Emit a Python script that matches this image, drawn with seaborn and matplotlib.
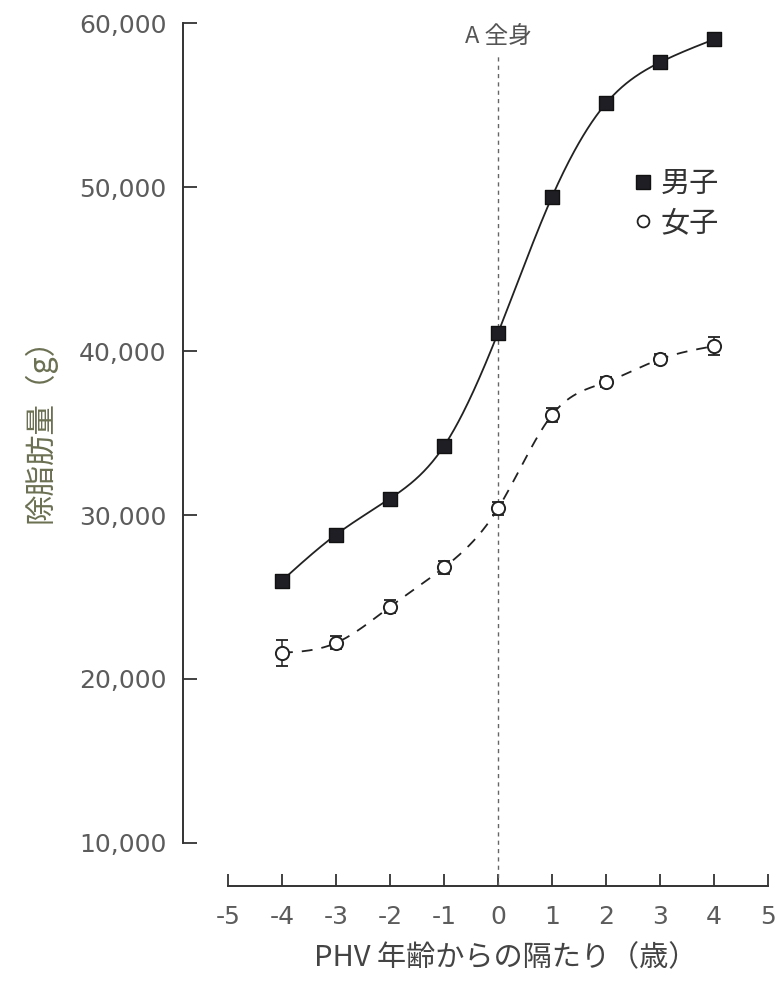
import numpy as np
import pandas as pd
import matplotlib
matplotlib.use("Agg")
import matplotlib.pyplot as plt
import matplotlib.transforms as mtransforms
from matplotlib.lines import Line2D
import seaborn as sns

# Lean body mass by years from PHV age
years = [-4, -3, -2, -1, 0, 1, 2, 3, 4]
boys = [26000, 28800, 31000, 34200, 41100, 49400, 55100, 57600, 59000]
girls = [21600, 22200, 24400, 26800, 30400, 36100, 38100, 39500, 40300]
girls_err = [800, 400, 400, 400, 400, 450, 300, 300, 550]

x_ticks = [-5, -4, -3, -2, -1, 0, 1, 2, 3, 4, 5]
y_ticks = [10000, 20000, 30000, 40000, 50000, 60000]
y_tick_labels = ["10,000", "20,000", "30,000", "40,000", "50,000", "60,000"]

x_label = "PHV 年齢からの隔たり（歳）"
y_label = "除脂肪量（g）"
marker_text = "A 全身"
series_names = ["男子", "女子"]


def natural_spline(x, y, num=400):
    """Smooth connector through the measured points (natural cubic spline)."""
    x = np.asarray(x, float)
    y = np.asarray(y, float)
    n = len(x)
    h = np.diff(x)
    A = np.zeros((n, n))
    rhs = np.zeros(n)
    A[0, 0] = 1.0
    A[-1, -1] = 1.0
    for i in range(1, n - 1):
        A[i, i - 1] = h[i - 1]
        A[i, i] = 2 * (h[i - 1] + h[i])
        A[i, i + 1] = h[i]
        rhs[i] = 6 * ((y[i + 1] - y[i]) / h[i] - (y[i] - y[i - 1]) / h[i - 1])
    M = np.linalg.solve(A, rhs)
    xs = np.linspace(x[0], x[-1], num)
    idx = np.clip(np.searchsorted(x, xs) - 1, 0, n - 2)
    x0, x1 = x[idx], x[idx + 1]
    hh = x1 - x0
    ys = (M[idx] * (x1 - xs) ** 3 / (6 * hh)
          + M[idx + 1] * (xs - x0) ** 3 / (6 * hh)
          + (y[idx] / hh - M[idx] * hh / 6) * (x1 - xs)
          + (y[idx + 1] / hh - M[idx + 1] * hh / 6) * (xs - x0))
    return xs, ys


sns.set_theme(style="ticks")
plt.rcParams["font.family"] = ["DejaVu Sans", "Noto Sans CJK JP"]
plt.rcParams["axes.unicode_minus"] = False

W, H = 780, 984
fig = plt.figure(figsize=(W / 100, H / 100), dpi=100)
fig.patch.set_facecolor("white")
ax = fig.add_axes([183 / W, 98 / H, 587 / W, 868 / H])
ax.set_facecolor("white")

cjk = ["Noto Sans CJK JP", "DejaVu Sans"]
ink = "#222222"

# smooth curves
bx, by = natural_spline(years, boys)
gx, gy = natural_spline(years, girls)
curves = pd.DataFrame({"x": np.r_[bx, gx], "y": np.r_[by, gy],
                       "sex": [series_names[0]] * len(bx) + [series_names[1]] * len(gx)})
sns.lineplot(data=curves[curves.sex == series_names[0]], x="x", y="y", ax=ax,
             color=ink, lw=1.3, legend=False, zorder=2)
sns.lineplot(data=curves[curves.sex == series_names[1]], x="x", y="y", ax=ax,
             color=ink, lw=1.3, legend=False, zorder=2, dashes=False)
ax.lines[-1].set_linestyle((0, (6, 5)))

# girls' error bars
ax.errorbar(years, girls, yerr=girls_err, fmt="none", ecolor=ink,
            elinewidth=1.1, capsize=4, capthick=1.3, zorder=3)

# markers
sns.scatterplot(x=years, y=boys, ax=ax, marker="s", s=115, color="#1e1e24",
                edgecolor="#111111", linewidth=1.0, zorder=4, legend=False)
sns.scatterplot(x=years, y=girls, ax=ax, marker="o", s=90, facecolor="white",
                edgecolor=ink, linewidth=1.4, zorder=4, legend=False)

# PHV reference line and caption
ax.axvline(0, ymin=0, ymax=0.957, color="#666666", lw=1.0,
           linestyle=(0, (3, 3)), zorder=1)
trans = mtransforms.blended_transform_factory(ax.transData, ax.transAxes)
ax.text(0, 0.979, marker_text, transform=trans, ha="center", va="center",
        fontsize=17, color="#555555", family=cjk)

# axes
ax.set_xlim(-5.833, 5.037)
ax.set_ylim(7378, 60305)
ax.set_xticks(x_ticks)
ax.set_xticklabels([str(t) for t in x_ticks])
ax.set_yticks(y_ticks)
ax.set_yticklabels(y_tick_labels)
sns.despine(ax=ax)
ax.spines["left"].set_bounds(10000, 60000)
ax.spines["bottom"].set_bounds(-5, 5)
for s in ("left", "bottom"):
    ax.spines[s].set_color("#333333")
    ax.spines[s].set_linewidth(1.4)
ax.tick_params(axis="y", direction="in", length=10, width=1.3, color="#333333",
               labelsize=18, labelcolor="#5c5c5c", pad=12)
ax.tick_params(axis="x", direction="in", length=9, width=1.3, color="#333333",
               labelsize=18, labelcolor="#5c5c5c", pad=14)

ax.set_xlabel(x_label, fontsize=21, color="#444444", family=cjk)
ax.xaxis.set_label_coords(0.549, -0.066)
ax.set_ylabel(y_label, fontsize=22, color="#6c7052", family=cjk)
ax.yaxis.set_label_coords(-0.215, 0.534)

# legend
handles = [
    Line2D([], [], linestyle="none", marker="s", markersize=10.5,
           markerfacecolor="#1e1e24", markeredgecolor="#111111"),
    Line2D([], [], linestyle="none", marker="o", markersize=8.5,
           markerfacecolor="white", markeredgecolor=ink, markeredgewidth=1.3),
]
leg = ax.legend(handles, series_names, loc="upper left",
                bbox_to_anchor=(633 / W, 1 - 169 / H), bbox_transform=fig.transFigure,
                frameon=False, borderpad=0, borderaxespad=0, handlelength=0.7,
                handletextpad=0.25, labelspacing=0.3, prop={"family": cjk, "size": 21})
for t in leg.get_texts():
    t.set_color("#333333")

fig.savefig("out.png", dpi=100, facecolor="white")
